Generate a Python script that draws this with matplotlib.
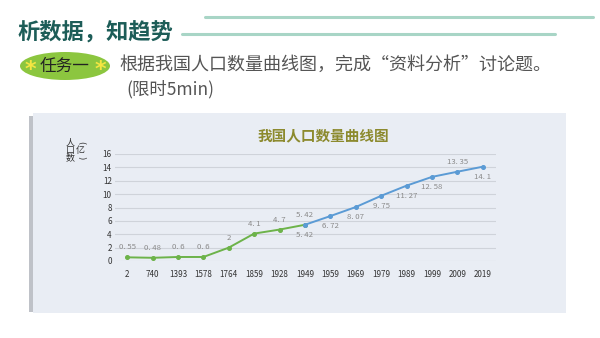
import matplotlib
matplotlib.use("Agg")
import matplotlib.pyplot as plt
from matplotlib.patches import Rectangle, Ellipse
from matplotlib.lines import Line2D

plt.rcParams['font.family'] = ['Noto Sans CJK SC', 'DejaVu Sans']

# ---- data ----
years = ["2", "740", "1393", "1578", "1764", "1859", "1928", "1949",
         "1959", "1969", "1979", "1989", "1999", "2009", "2019"]
population = [0.55, 0.48, 0.6, 0.6, 2, 4.1, 4.7, 5.42,
              6.72, 8.07, 9.75, 11.27, 12.58, 13.35, 14.1]
split_idx = 7  # 1949: green (historic) up to here, blue from here on
label_above = [True, True, True, True, True, True, True, True,
               False, False, False, False, False, True, False]
yticks = [0, 2, 4, 6, 8, 10, 12, 14, 16]

W, H = 600, 338
fig = plt.figure(figsize=(W / 100, H / 100), dpi=100)
fig.patch.set_facecolor('white')

def fx(x):
    return x / W

def fy(y):
    return 1 - y / H

# ---- paper ----
fig.patches.append(Rectangle((fx(29), fy(312)), fx(10), (312 - 116) / H,
                             transform=fig.transFigure, facecolor='#bfc2c8',
                             edgecolor='none', zorder=-2))
fig.patches.append(Rectangle((fx(33), fy(313)), fx(566 - 33), (313 - 113) / H,
                             transform=fig.transFigure, facecolor='#e9edf4',
                             edgecolor='none', zorder=-1))

# ---- header ----
fig.text(fx(18), fy(32), "析数据，知趋势", fontsize=16, fontweight='bold',
         color='#1d5d58', va='center', ha='left')
fig.add_artist(Line2D([fx(205), fx(593)], [fy(17), fy(17)], color='#a8d5c6',
                      lw=2.2, transform=fig.transFigure, solid_capstyle='round'))
fig.add_artist(Line2D([fx(182), fx(555)], [fy(34), fy(34)], color='#a8d5c6',
                      lw=2.2, transform=fig.transFigure, solid_capstyle='round'))

fig.patches.append(Ellipse((fx(65), fy(66)), 90 / W, 28 / H,
                           transform=fig.transFigure, facecolor='#8cc63f',
                           edgecolor='none'))
fig.text(fx(65), fy(66), "任务一", fontsize=12, color='#222222',
         ha='center', va='center')
fig.text(fx(30), fy(70), "*", fontsize=16, color='#f5e642', ha='center',
         va='center', fontweight='bold', family='DejaVu Sans')
fig.text(fx(100), fy(70), "*", fontsize=16, color='#f5e642', ha='center',
         va='center', fontweight='bold', family='DejaVu Sans')

fig.text(fx(119), fy(65), "根据我国人口数量曲线图，完成“资料分析”讨论题。",
         fontsize=13, color='#555555', ha='left', va='center')
fig.text(fx(126), fy(89), "(限时5min)", fontsize=12.5, color='#555555',
         ha='left', va='center')

# ---- chart ----
ax = fig.add_axes([fx(114.5), fy(261), 381 / W, 107 / H])
ax.set_zorder(2)
ax.set_facecolor('none')
x = list(range(len(years)))
green = '#6db34a'
blue = '#5b9bd5'
ax.plot(x[:split_idx + 1], population[:split_idx + 1], color=green, lw=1.4,
        marker='o', ms=2.6, zorder=3)
ax.plot(x[split_idx:], population[split_idx:], color=blue, lw=1.4,
        marker='o', ms=2.6, zorder=3)

def fmt(v):
    return f"{v:g}".replace(".", ". ")

for i, (xi, v) in enumerate(zip(x, population)):
    off = 7.2 if label_above[i] else -7.2
    ax.annotate(fmt(v), (xi, v), xytext=(0, off), textcoords='offset points',
                ha='center', va='center', fontsize=5.6, color='#8a8a8a')
# 1949 duplicate label below (blue series)
ax.annotate(fmt(population[split_idx]), (split_idx, population[split_idx]),
            xytext=(0, -7.2), textcoords='offset points', ha='center',
            va='center', fontsize=5.6, color='#8a8a8a')

ax.set_xlim(-0.5, len(years) - 0.5)
ax.set_ylim(0, 16)
ax.set_yticks(yticks)
ax.set_xticks(x)
ax.set_xticklabels(years)
ax.tick_params(axis='both', length=0, labelsize=5.8, colors='#333333')
ax.tick_params(axis='x', pad=6.5)
ax.tick_params(axis='y', pad=2)
ax.grid(axis='y', color='#cfd3da', lw=0.8)
ax.set_axisbelow(True)
for s in ax.spines.values():
    s.set_visible(False)

fig.text(fx(323), fy(135), "我国人口数量曲线图", fontsize=10.5, fontweight='bold',
         color='#8c8a2e', ha='center', va='center')

# y axis label
for j, ch in enumerate("人口数"):
    fig.text(fx(70), fy(143 + j * 7.5), ch, fontsize=6.5, color='#333333',
             ha='center', va='center')
fig.text(fx(80.5), fy(142.5), "(", fontsize=6, color='#333333', ha='center',
         va='center', rotation=-90, family='DejaVu Sans')
fig.text(fx(80.5), fy(150), "亿", fontsize=6.5, color='#333333', ha='center',
         va='center')
fig.text(fx(80.5), fy(157.5), ")", fontsize=6, color='#333333', ha='center',
         va='center', rotation=-90, family='DejaVu Sans')

fig.savefig("out.png", dpi=100)
